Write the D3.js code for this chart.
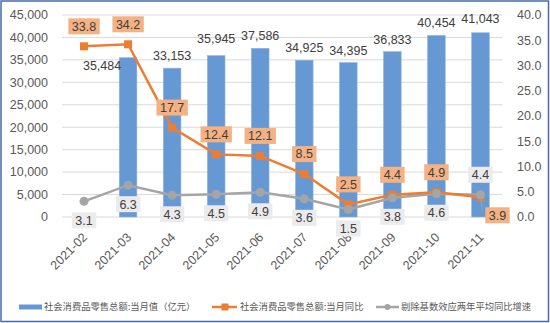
<!DOCTYPE html>
<html><head><meta charset="utf-8">
<script src="https://cdn.jsdelivr.net/npm/d3@7/dist/d3.min.js"></script>
<style>body{margin:0;background:#fff}svg{display:block}</style>
</head><body>
<svg id="c" width="550" height="323"></svg>
<script>
const months = ["2021-02","2021-03","2021-04","2021-05","2021-06","2021-07","2021-08","2021-09","2021-10","2021-11"];
const retailValue = [null,35484,33153,35945,37586,34925,34395,36833,40454,41043];
const retailYoY = [33.8,34.2,17.7,12.4,12.1,8.5,2.5,4.4,4.9,3.9];
const twoYearAvg = [3.1,6.3,4.3,4.5,4.9,3.6,1.5,3.8,4.6,4.4];
const leftTicks = [0,5000,10000,15000,20000,25000,30000,35000,40000,45000];
const rightTicks = [0,5,10,15,20,25,30,35,40];
const seriesNames = ["社会消费品零售总额:当月值（亿元）","社会消费品零售总额:当月同比","剔除基数效应两年平均同比增速"];

// label nudges (layout only)
const barLabelNudge = [[0,0],[-26,20],[0,0],[0,-5],[0,0],[0,0],[0,0],[0,0],[0,0],[0,-2]];
const yoyLabelBelow = [false,false,false,false,false,false,false,false,false,true];

const svg = d3.select("#c");
const W = 550, H = 323;
svg.append("rect").attr("x",1).attr("y",1).attr("width",W-2.5).attr("height",H-2.5)
  .attr("fill","#fff").attr("stroke","#4a6aa5").attr("stroke-width",1.5);

const x = d3.scaleBand().domain(months).range([62,502.5]).paddingInner(0.6).paddingOuter(0.3);
const yL = d3.scaleLinear().domain([0,45000]).range([217,15]);
const yR = d3.scaleLinear().domain([0,40]).range([217,15]);
const cx = d => x(d) + x.bandwidth()/2;
const font = "'Liberation Sans', Arial, sans-serif";
const txt = "#595959";

// gridlines
svg.append("g").selectAll("line").data(leftTicks).join("line")
  .attr("x1",62).attr("x2",502.5).attr("y1",d=>yL(d)).attr("y2",d=>yL(d))
  .attr("stroke","#d9d9d9").attr("stroke-width",1);

// left axis labels
svg.append("g").selectAll("text").data(leftTicks).join("text")
  .attr("x",48).attr("y",d=>yL(d)).attr("dy","0.35em").attr("text-anchor","end")
  .attr("font-family",font).attr("font-size",12.5).attr("fill",txt)
  .text(d=>d3.format(",")(d));
// right axis labels
svg.append("g").selectAll("text").data(rightTicks).join("text")
  .attr("x",517).attr("y",d=>yR(d)).attr("dy","0.35em").attr("text-anchor","start")
  .attr("font-family",font).attr("font-size",12.5).attr("fill",txt)
  .text(d=>d3.format(".1f")(d));

// x labels
svg.append("g").selectAll("text").data(months).join("text")
  .attr("transform",d=>`translate(${cx(d)+4},238) rotate(-45)`)
  .attr("text-anchor","end").attr("font-family",font).attr("font-size",12.5).attr("fill",txt)
  .text(d=>d);

// bars
const barData = months.map((m,i)=>({m,v:retailValue[i],i})).filter(d=>d.v!=null);
svg.append("g").selectAll("rect").data(barData).join("rect")
  .attr("x",d=>x(d.m)).attr("width",x.bandwidth())
  .attr("y",d=>yL(d.v)).attr("height",d=>yL(0)-yL(d.v))
  .attr("fill","#6699d4").attr("stroke","#8fb4e0").attr("stroke-width",0.6);

// bar labels
svg.append("g").selectAll("text").data(barData).join("text")
  .attr("x",d=>cx(d.m)+barLabelNudge[d.i][0]).attr("y",d=>yL(d.v)-8+barLabelNudge[d.i][1])
  .attr("text-anchor","middle").attr("font-family",font).attr("font-size",12.5).attr("fill","#404040")
  .text(d=>d3.format(",")(d.v));

// lines
const line = d3.line().x(d=>cx(d.m)).y(d=>yR(d.v));
const yoy = months.map((m,i)=>({m,v:retailYoY[i],i}));
const avg = months.map((m,i)=>({m,v:twoYearAvg[i],i}));

svg.append("path").datum(avg).attr("d",line).attr("fill","none").attr("stroke","#a5a5a5").attr("stroke-width",2.5);
svg.append("path").datum(yoy).attr("d",line).attr("fill","none").attr("stroke","#ed7d31").attr("stroke-width",2.5);
svg.append("g").selectAll("rect").data(yoy).join("rect")
  .attr("x",d=>cx(d.m)-4).attr("y",d=>yR(d.v)-4).attr("width",8).attr("height",8).attr("fill","#ed7d31");
svg.append("g").selectAll("circle").data(avg).join("circle")
  .attr("cx",d=>cx(d.m)).attr("cy",d=>yR(d.v)).attr("r",4.5).attr("fill","#a5a5a5");

// point labels
function boxLabel(g, px, py, text, fill){
  const t = g.append("text").attr("x",px).attr("y",py).attr("dy","0.35em").attr("text-anchor","middle")
    .attr("font-family",font).attr("font-size",12.5).attr("fill","#404040").text(text);
  const bb = t.node().getBBox();
  g.insert("rect","text").attr("x",bb.x-3.5).attr("y",py-8).attr("width",bb.width+7).attr("height",16).attr("fill",fill);
}
const lg = svg.append("g");
yoy.forEach(d=>{
  const g = lg.append("g");
  if(yoyLabelBelow[d.i]){
    const px = cx(d.m)+17, py = yR(d.v)+18;
    lg.insert("line",":first-child").attr("x1",cx(d.m)).attr("y1",yR(d.v)).attr("x2",px-15).attr("y2",py-4)
      .attr("stroke","#a5a5a5").attr("stroke-width",0.8);
    boxLabel(g, px, py, d3.format(".1f")(d.v), "#f4b183");
  } else {
    boxLabel(g, cx(d.m), yR(d.v)-20, d3.format(".1f")(d.v), "#f4b183");
  }
});
avg.forEach(d=>{
  const g = lg.append("g");
  const py = yoyLabelBelow[d.i] ? yR(d.v)-20 : yR(d.v)+19;
  boxLabel(g, cx(d.m), py, d3.format(".1f")(d.v), "#ebebeb");
});

// legend
const lgY = 307;
const leg = svg.append("g").attr("font-family","'Noto Sans CJK SC', sans-serif").attr("font-size",9.3).attr("fill",txt);
leg.append("rect").attr("x",19).attr("y",lgY-2.5).attr("width",23).attr("height",5).attr("fill","#6699d4");
leg.append("text").attr("x",44).attr("y",lgY).attr("dy","0.35em").text(seriesNames[0]);
leg.append("line").attr("x1",212).attr("x2",237).attr("y1",lgY).attr("y2",lgY).attr("stroke","#ed7d31").attr("stroke-width",2.5);
leg.append("rect").attr("x",221.5).attr("y",lgY-3.5).attr("width",7).attr("height",7).attr("fill","#ed7d31");
leg.append("text").attr("x",240).attr("y",lgY).attr("dy","0.35em").text(seriesNames[1]);
leg.append("line").attr("x1",376).attr("x2",399).attr("y1",lgY).attr("y2",lgY).attr("stroke","#a5a5a5").attr("stroke-width",2.5);
leg.append("circle").attr("cx",387.5).attr("cy",lgY).attr("r",3).attr("fill","#a5a5a5");
leg.append("text").attr("x",401).attr("y",lgY).attr("dy","0.35em").text(seriesNames[2]);
</script>
</body></html>
